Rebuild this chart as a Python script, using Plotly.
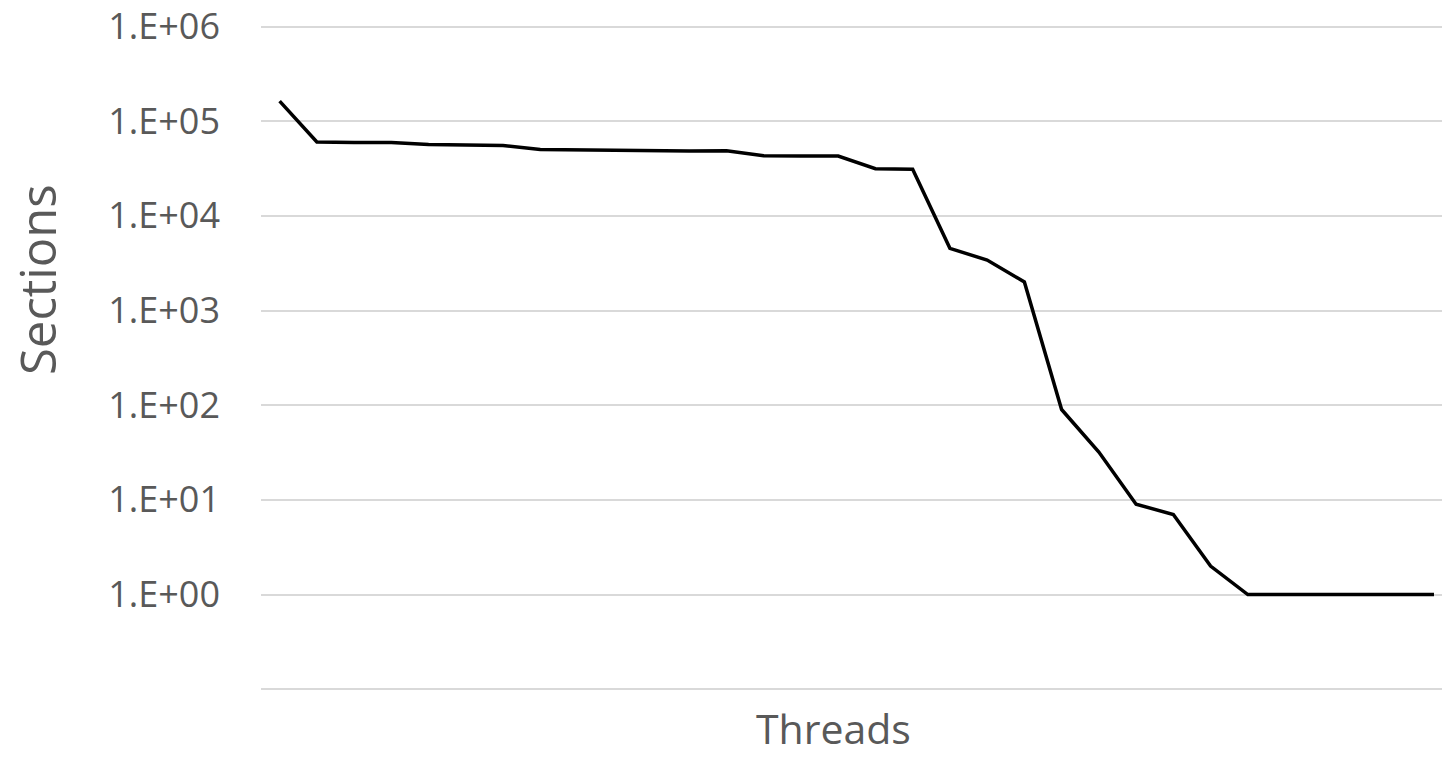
import plotly.graph_objects as go

# Number of threads (category positions along the x axis)
threads = list(range(1, 33))

# Sections per thread count
sections = [
    163000, 60200, 59700, 59400, 56600, 56000, 55300, 50200,
    49600, 49600, 48700, 48400, 48600, 43200, 43000, 42800,
    31500, 31000, 4540, 3410, 2000, 90, 32, 9,
    7, 2, 1, 1, 1, 1, 1, 1,
]

# Log-scale gridlines, one per decade; the lowest one carries no label
y_tick_values = [0.1, 1, 10, 100, 1000, 10000, 100000, 1000000]
y_tick_labels = ["", "1.E+00", "1.E+01", "1.E+02", "1.E+03", "1.E+04", "1.E+05", "1.E+06"]

TEXT = "#595959"
GRID = "#d9d9d9"
FONT = "Open Sans"

fig = go.Figure()
fig.add_trace(
    go.Scatter(
        x=threads,
        y=sections,
        mode="lines",
        line=dict(color="black", width=3.5),
        showlegend=False,
        hoverinfo="skip",
    )
)

fig.update_layout(
    width=1442,
    height=760,
    margin=dict(l=261, r=0, t=25, b=69),
    paper_bgcolor="white",
    plot_bgcolor="white",
    font=dict(family=FONT, color=TEXT),
    xaxis=dict(
        type="linear",
        range=[0.5, 32.215],
        showgrid=False,
        zeroline=False,
        showline=False,
        showticklabels=False,
        ticks="",
    ),
    yaxis=dict(
        type="log",
        range=[-1.019, 6.016],
        tickvals=y_tick_values,
        ticktext=y_tick_labels,
        showgrid=True,
        gridcolor=GRID,
        gridwidth=1.5,
        zeroline=False,
        showline=False,
        ticks="",
        ticklabelstandoff=40,
        tickfont=dict(family=FONT, size=36, color=TEXT),
    ),
    annotations=[
        dict(
            text="Threads",
            xref="paper", yref="paper",
            x=(833 - 261) / (1442 - 261), y=-(757 - 691) / 666,
            xanchor="center", yanchor="bottom",
            borderpad=0,
            showarrow=False,
            font=dict(family=FONT, size=41, color=TEXT),
        ),
        dict(
            text="Sections",
            xref="paper", yref="paper",
            x=-(261 - 37) / (1442 - 261), y=(691 - 280) / 666,
            xanchor="center", yanchor="middle",
            textangle=-90,
            showarrow=False,
            font=dict(family=FONT, size=49, color=TEXT),
        ),
    ],
)

fig.write_html("out.html")
